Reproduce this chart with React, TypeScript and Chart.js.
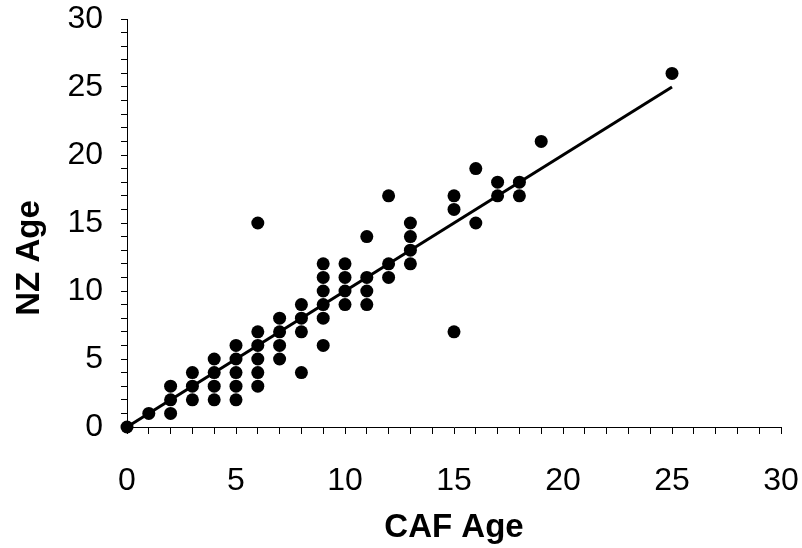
import React, { useEffect, useRef } from 'react';
import { Chart, registerables } from 'chart.js';

Chart.register(...registerables);

// CAF age (x) and NZ age (y) of each sample
const cafAge = [
  0,
  1,
  2, 2, 2,
  3, 3, 3,
  4, 4, 4, 4,
  5, 5, 5, 5, 5,
  6, 6, 6, 6, 6, 6,
  7, 7, 7, 7,
  8, 8, 8, 8,
  9, 9, 9, 9, 9, 9,
  10, 10, 10, 10,
  11, 11, 11, 11,
  12, 12, 12,
  13, 13, 13, 13,
  15, 15, 15,
  16, 16,
  17, 17,
  18, 18,
  19,
  25,
];
const nzAge = [
  0,
  1,
  1, 2, 3,
  2, 3, 4,
  2, 3, 4, 5,
  2, 3, 4, 5, 6,
  3, 4, 5, 6, 7, 15,
  5, 6, 7, 8,
  4, 7, 8, 9,
  6, 8, 9, 10, 11, 12,
  9, 10, 11, 12,
  9, 10, 11, 14,
  11, 12, 17,
  12, 13, 14, 15,
  7, 16, 17,
  15, 19,
  17, 18,
  17, 18,
  21,
  26,
];

// Fitted trend line end points
const trendX = [0, 25];
const trendY = [0, 25];

const tickLabels = ['0', '5', '10', '15', '20', '25', '30'];
const xTitle = 'CAF Age';
const yTitle = 'NZ Age';

const FONT = "'Liberation Sans', Arial, sans-serif";

export default function App() {
  const ref = useRef<HTMLCanvasElement | null>(null);

  useEffect(() => {
    if (!ref.current) return;
    const points = cafAge.map((x, i) => ({ x, y: nzAge[i] }));
    const trend = trendX.map((x, i) => ({ x, y: trendY[i] }));

    const titlePlugin = {
      id: 'axisTitles',
      afterDraw(chart: any) {
        const { ctx, chartArea } = chart;
        ctx.save();
        ctx.fillStyle = '#000';
        ctx.font = `bold 33px ${FONT}`;
        ctx.textAlign = 'center';
        ctx.textBaseline = 'middle';
        ctx.fillText(xTitle, (chartArea.left + chartArea.right) / 2, 528);
        ctx.translate(30, 258);
        ctx.rotate(-Math.PI / 2);
        ctx.fillText(yTitle, 0, 0);
        ctx.restore();
      },
    };

    const tickCb = (v: any) => {
      const n = Number(v);
      return n % 5 === 0 ? tickLabels[n / 5] : '';
    };

    const chart = new Chart(ref.current, {
      type: 'scatter',
      data: {
        datasets: [
          {
            type: 'line',
            data: trend,
            borderColor: '#000',
            borderWidth: 3,
            pointRadius: 0,
            fill: false,
            order: 2,
          } as any,
          {
            type: 'scatter',
            data: points,
            backgroundColor: '#000',
            borderColor: '#000',
            borderWidth: 0,
            pointRadius: 6.5,
            clip: false,
            order: 1,
          } as any,
        ],
      },
      options: {
        responsive: false,
        animation: false,
        events: [],
        layout: { padding: { top: 19, right: 21, bottom: 0, left: 0 } },
        plugins: {
          legend: { display: false },
          tooltip: { enabled: false },
          title: { display: false },
        },
        scales: {
          x: {
            type: 'linear',
            min: 0,
            max: 30,
            afterFit(scale: any) {
              scale.height = 121;
              scale.paddingLeft = 0;
              scale.paddingRight = 0;
            },
            ticks: {
              stepSize: 1,
              autoSkip: false,
              maxRotation: 0,
              color: '#000',
              padding: 28,
              font: { family: FONT, size: 32 },
              callback: tickCb,
            },
            grid: {
              display: true,
              drawOnChartArea: false,
              drawTicks: true,
              tickLength: 7,
              color: '#000',
              lineWidth: 1,
            },
            border: { display: true, color: '#000', width: 1 },
          },
          y: {
            type: 'linear',
            min: 0,
            max: 30,
            afterFit(scale: any) {
              scale.width = 127;
              scale.paddingTop = 0;
              scale.paddingBottom = 0;
            },
            ticks: {
              stepSize: 1,
              autoSkip: false,
              color: '#000',
              padding: 18,
              font: { family: FONT, size: 32 },
              callback: tickCb,
            },
            grid: {
              display: true,
              drawOnChartArea: false,
              drawTicks: true,
              tickLength: 6,
              color: '#000',
              lineWidth: 1,
            },
            border: { display: true, color: '#000', width: 1 },
          },
        },
      },
      plugins: [titlePlugin],
    });
    return () => chart.destroy();
  }, []);

  return (
    <div style={{ position: 'fixed', left: 0, top: 0, width: 802, height: 548 }}>
      <canvas ref={ref} width={802} height={548} style={{ display: 'block' }} />
    </div>
  );
}
